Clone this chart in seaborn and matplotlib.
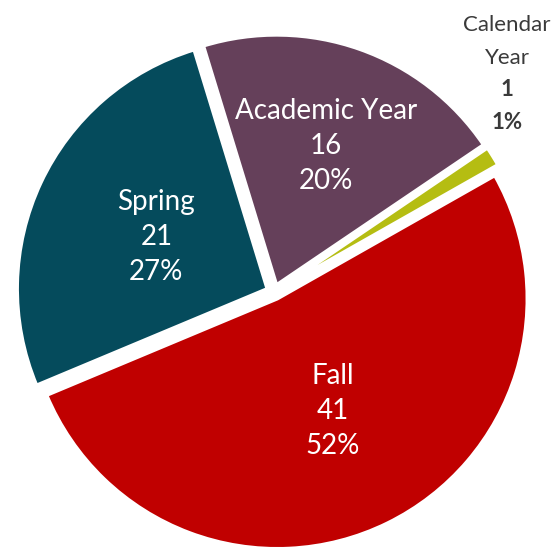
import numpy as np
import seaborn as sns
import matplotlib.pyplot as plt

categories = ["Academic Year", "Calendar Year", "Fall", "Spring"]
counts = [16, 1, 41, 21]
colors = ["#65405A", "#B5BD12", "#C00000", "#054B5C"]
label_radius = [0.59, None, 0.50, 0.49]

sns.set_theme(style="white")
plt.rcParams["font.family"] = ["Lato", "DejaVu Sans"]

fig = plt.figure(figsize=(5.55, 5.48), dpi=100)
ax = fig.add_axes([0, 0, 1, 1])

wedges, _ = ax.pie(
    counts,
    colors=colors,
    startangle=107,
    counterclock=False,
    explode=[0.03] * len(counts),
    radius=1,
    wedgeprops={"edgecolor": "white", "linewidth": 2.5},
)

total = sum(counts)
pcts = [round(c / total * 100) for c in counts]

for w, cat, n, p, r in zip(wedges, categories, counts, pcts, label_radius):
    if r is None:
        continue
    mid = np.deg2rad((w.theta1 + w.theta2) / 2)
    cx, cy = w.center
    ax.text(
        cx + r * np.cos(mid),
        cy + r * np.sin(mid),
        f"{cat}\n{n}\n{p}%",
        ha="center",
        va="center",
        color="white",
        fontsize=20,
        linespacing=1.42,
    )

# small slice: label sits outside, top right
i = categories.index("Calendar Year")
lines = categories[i].split(" ") + [str(counts[i]), f"{pcts[i]}%"]
weights = ["normal", "normal", "bold", "bold"]
for k, (txt, fw) in enumerate(zip(lines, weights)):
    ax.text(0.932, 1.068 - k * 0.13, txt, ha="center", va="center",
            color="#3a3a3a", fontsize=16, fontweight=fw)

ax.set_xlim(-274 / 250, (555 - 274) / 250)
ax.set_ylim(-(548 - 292) / 250, 292 / 250)
ax.set_aspect("auto")
ax.axis("off")

plt.savefig("out.png", dpi=100)
plt.close()
